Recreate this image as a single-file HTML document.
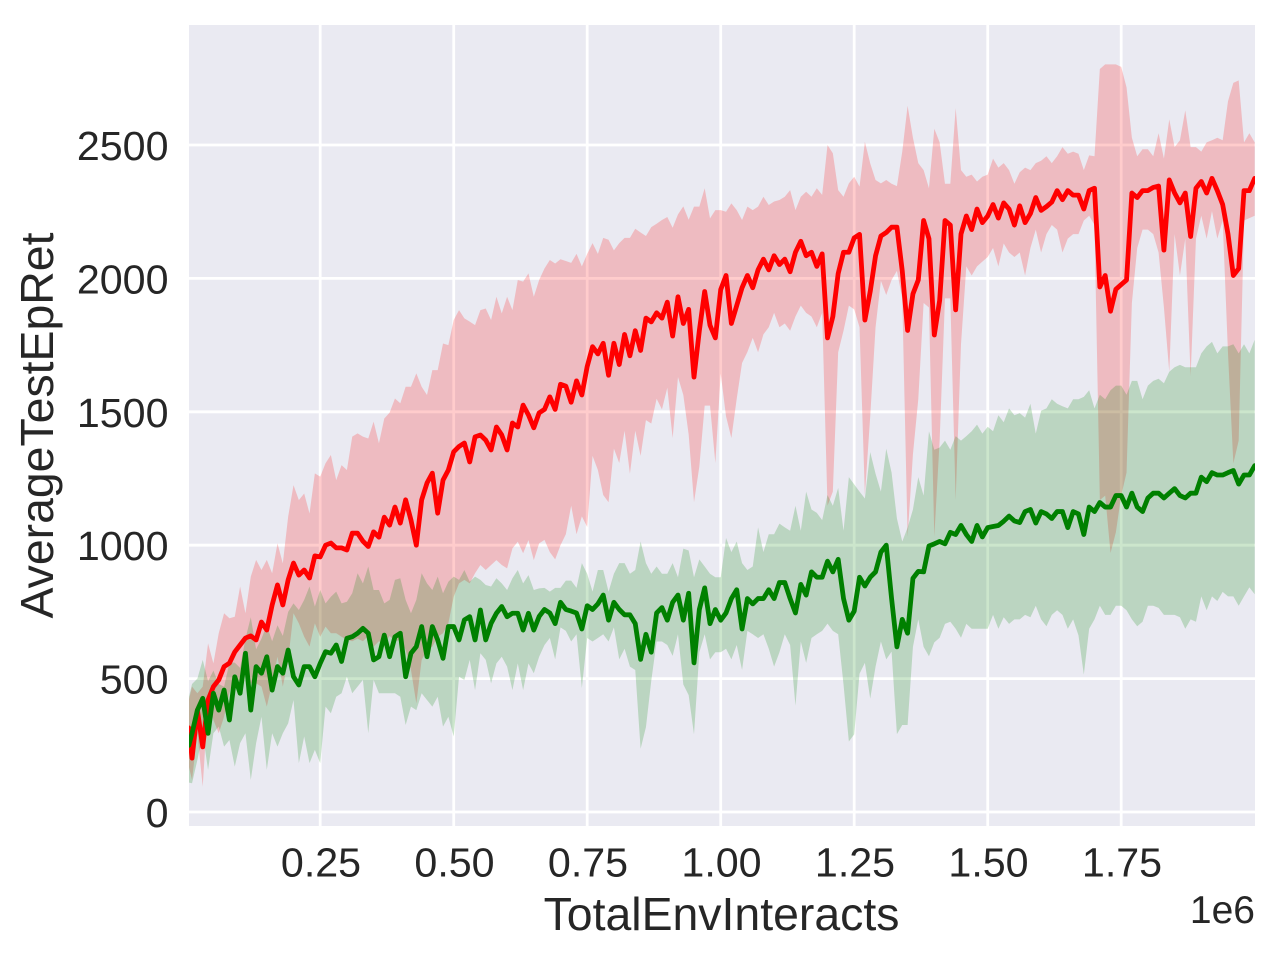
<!DOCTYPE html>
<html lang="en">
<head>
<meta charset="utf-8">
<title>AverageTestEpRet vs TotalEnvInteracts</title>
<style>
html,body{margin:0;padding:0;background:#fff;width:1280px;height:960px;overflow:hidden}
svg{display:block}
text{font-family:"Liberation Sans",Arial,sans-serif;fill:#262626}
</style>
</head>
<body>
<svg id="chart" xmlns="http://www.w3.org/2000/svg" width="1280" height="960" viewBox="0 0 1280 960">
  <defs><clipPath id="plot-clip"><rect x="189" y="25" width="1066" height="801"/></clipPath></defs>
  <rect x="189" y="25" width="1066" height="801" fill="#EAEAF2"/>
  <g id="grid"></g>
  <g id="marks" clip-path="url(#plot-clip)"></g>
  <g id="tick-labels"></g>
  <text x="721.5" y="930" font-size="46.4" text-anchor="middle">TotalEnvInteracts</text>
  <text transform="translate(53,425.5) rotate(-90)" font-size="46.4" text-anchor="middle">AverageTestEpRet</text>
  <text x="1255" y="923" font-size="39" text-anchor="end">1e6</text>
</svg>
<script>
// Axis tick values and labels
const xTicks = [250, 500, 750, 1000, 1250, 1500, 1750];
const xTickLabels = ["0.25", "0.50", "0.75", "1.00", "1.25", "1.50", "1.75"];
const yTicks = [0, 500, 1000, 1500, 2000, 2500];
const yTickLabels = ["0", "500", "1000", "1500", "2000", "2500"];

// Environment interactions, in thousands
const steps = [
4,10,20,30,40,50,60,70,80,90,
100,110,120,130,140,150,160,170,180,190,
200,210,220,230,240,250,260,270,280,290,
300,310,320,330,340,350,360,370,380,390,
400,410,420,430,440,450,460,470,480,490,
500,510,520,530,540,550,560,570,580,590,
600,610,620,630,640,650,660,670,680,690,
700,710,720,730,740,750,760,770,780,790,
800,810,820,830,840,850,860,870,880,890,
900,910,920,930,940,950,960,970,980,990,
1000,1010,1020,1030,1040,1050,1060,1070,1080,1090,
1100,1110,1120,1130,1140,1150,1160,1170,1180,1190,
1200,1210,1220,1230,1240,1250,1260,1270,1280,1290,
1300,1310,1320,1330,1340,1350,1360,1370,1380,1390,
1400,1410,1420,1430,1440,1450,1460,1470,1480,1490,
1500,1510,1520,1530,1540,1550,1560,1570,1580,1590,
1600,1610,1620,1630,1640,1650,1660,1670,1680,1690,
1700,1710,1720,1730,1740,1750,1760,1770,1780,1790,
1800,1810,1820,1830,1840,1850,1860,1870,1880,1890,
1900,1910,1920,1930,1940,1950,1960,1970,1980,1990,
2000];

const redMean = [
315,202,382,244,420,470,495,545,558,600,
626,652,660,645,712,682,776,851,776,870,
933,888,907,877,960,956,1000,1008,990,990,
982,1045,1045,1015,995,1050,1030,1105,1075,1143,
1083,1170,1094,1000,1170,1233,1270,1120,1244,1282,
1350,1370,1383,1312,1406,1413,1394,1357,1443,1413,
1357,1458,1443,1525,1488,1440,1496,1509,1556,1509,
1603,1596,1536,1616,1563,1670,1744,1717,1757,1637,
1757,1677,1790,1710,1804,1730,1851,1837,1871,1851,
1911,1784,1931,1831,1884,1630,1804,1951,1824,1777,
1958,2011,1831,1898,1965,2011,1965,2032,2072,2032,
2085,2052,2072,2025,2098,2139,2085,2098,2045,2092,
1777,1857,2018,2098,2098,2152,2165,1844,1951,2085,
2159,2172,2192,2192,2028,1805,1942,1994,2217,2149,
1788,1917,2217,2200,1882,2166,2234,2183,2260,2209,
2234,2277,2226,2283,2260,2200,2272,2209,2243,2303,
2255,2269,2286,2329,2295,2329,2312,2312,2260,2329,
2338,1968,2011,1877,1959,1977,1994,2320,2303,2329,
2329,2341,2346,2106,2369,2320,2283,2320,2157,2338,
2363,2320,2375,2329,2277,2166,2011,2037,2329,2329,
2375];

const redUpper = [
420,470,445,470,632,557,670,745,726,732,
845,745,882,945,907,945,895,1007,932,1107,
1225,1169,1194,1119,1269,1257,1307,1338,1244,1300,
1282,1407,1419,1407,1400,1463,1382,1475,1497,1550,
1532,1594,1594,1644,1594,1563,1656,1656,1756,1750,
1844,1881,1850,1838,1825,1881,1887,1844,1931,1869,
1931,1881,1994,1988,2019,1931,1994,2037,2069,2056,
2072,2065,2058,2092,2045,2092,2132,2092,2152,2145,
2105,2132,2152,2152,2186,2172,2159,2192,2205,2219,
2230,2190,2240,2270,2220,2269,2269,2338,2225,2256,
2256,2250,2281,2256,2219,2269,2256,2269,2306,2275,
2288,2294,2306,2331,2256,2306,2325,2306,2338,2313,
2500,2469,2331,2306,2356,2381,2344,2512,2431,2369,
2356,2369,2355,2346,2475,2647,2527,2432,2406,2338,
2561,2510,2355,2355,2638,2406,2381,2389,2363,2381,
2389,2449,2415,2432,2406,2355,2398,2415,2406,2432,
2441,2458,2432,2458,2492,2467,2475,2467,2406,2461,
2458,2785,2802,2802,2802,2793,2716,2527,2458,2484,
2484,2458,2544,2449,2596,2492,2518,2630,2492,2492,
2475,2510,2518,2527,2518,2664,2733,2742,2510,2544,
2510];

const redLower = [
170,120,295,95,420,345,295,357,445,520,
482,545,482,482,470,395,482,582,470,570,
745,707,657,620,707,657,695,670,670,657,
645,640,650,640,660,620,640,630,660,640,
645,607,532,407,570,607,620,657,670,707,
807,857,870,857,895,926,907,926,944,926,
913,988,1013,970,1019,944,1007,1020,974,947,
1000,1041,1148,1041,1108,1068,1335,1282,1188,1161,
1362,1308,1429,1268,1429,1335,1469,1456,1549,1509,
1590,1402,1630,1563,1415,1161,1295,1523,1523,1308,
1643,1483,1402,1549,1683,1724,1777,1723,1790,1817,
1871,1817,1831,1804,1857,1898,1871,1857,1817,1871,
1148,1201,1723,1804,1898,1884,1817,1188,1483,1817,
1991,1938,1994,2028,1925,1031,1341,1547,1908,1891,
1031,1392,1925,1925,1169,1753,2045,2011,2045,2063,
2080,2114,2045,2131,2097,2080,2097,2011,2114,2183,
2097,2166,2200,2183,2097,2149,2166,2166,2217,2235,
2200,1169,1186,971,1048,1186,1272,1908,2114,2183,
2183,2166,2097,1891,1650,2166,2011,2149,1633,2149,
2235,2149,2252,2149,2217,1719,1306,1392,2217,2226,
2235];

const greenMean = [
250,295,382,426,295,445,382,457,345,507,
445,595,382,545,520,582,457,545,520,607,
507,476,545,545,507,557,601,595,626,564,
651,657,670,688,670,570,582,663,582,657,
670,507,595,620,695,582,695,645,576,695,
695,645,720,732,645,757,645,707,745,770,
732,745,745,682,745,682,733,759,746,706,
786,759,753,746,686,773,759,780,813,719,
786,759,739,739,706,572,666,599,746,766,
719,786,813,719,820,559,759,840,706,759,
719,746,800,833,686,800,780,800,800,833,
800,860,860,800,746,853,813,900,880,880,
940,900,947,800,719,753,880,847,880,900,
974,1000,800,619,722,670,876,902,900,997,
1005,1014,1005,1048,1040,1074,1040,1014,1074,1031,
1066,1070,1074,1090,1109,1091,1085,1126,1134,1083,
1126,1117,1100,1126,1126,1066,1126,1117,1040,1143,
1126,1160,1143,1143,1186,1186,1143,1195,1143,1126,
1177,1195,1195,1177,1195,1212,1186,1177,1195,1195,
1255,1238,1272,1263,1263,1272,1280,1229,1263,1263,
1298];

const greenUpper = [
430,480,500,570,490,530,480,470,560,560,
540,650,730,610,650,700,640,700,660,750,
782,757,795,845,770,832,782,807,826,782,
788,820,895,857,920,832,832,782,795,870,
876,795,745,795,895,857,832,882,820,863,
882,870,907,863,882,870,851,845,876,857,
832,876,907,857,888,832,838,840,826,840,
840,867,867,840,933,893,826,907,907,826,
893,933,933,893,907,1014,933,893,920,893,
893,933,880,987,980,880,947,920,893,880,
880,1027,974,1014,933,907,920,1067,974,1041,
1041,1081,1067,1054,1148,1054,1201,1134,1121,1094,
1188,1148,1215,1054,1255,1228,1201,1175,1349,1268,
1201,1362,1272,1100,1014,1066,1134,1255,1186,1427,
1358,1366,1392,1358,1409,1392,1409,1427,1452,1418,
1444,1427,1487,1461,1513,1487,1495,1478,1530,1418,
1504,1513,1547,1530,1521,1513,1547,1547,1556,1581,
1513,1564,1547,1581,1598,1598,1564,1616,1616,1547,
1598,1616,1624,1607,1650,1667,1676,1667,1667,1667,
1719,1745,1762,1719,1745,1745,1753,1719,1753,1719,
1770];

const greenLower = [
110,108,195,295,158,295,320,245,270,170,
258,295,120,258,357,158,295,245,295,332,
420,183,283,183,233,183,395,370,432,445,
507,445,470,495,295,495,445,445,445,445,
432,326,395,382,445,420,395,432,320,357,
283,507,495,570,457,595,570,482,557,582,
545,457,557,457,557,520,582,626,652,572,
692,679,639,666,465,652,639,652,666,639,
692,572,612,545,532,237,318,492,639,639,
626,585,666,478,438,291,599,666,572,599,
599,612,572,626,532,679,666,652,666,612,
545,599,666,626,398,639,559,652,666,679,
706,679,666,478,264,291,518,559,425,545,
639,572,601,292,326,326,619,722,619,584,
636,653,705,713,687,653,705,687,687,687,
687,739,687,730,705,722,722,739,730,773,
722,696,739,756,739,687,722,662,515,687,
722,773,739,739,773,773,756,722,696,713,
773,773,765,739,739,739,730,687,722,713,
808,756,808,791,825,808,808,773,808,842,
816];

// Axis functions: steps in thousands to px, returns to px
function xScale(k) { return 186.7 + 0.534 * k; }
function yScale(v) { return 812 - 0.2668 * v; }

const svgNS = "http://www.w3.org/2000/svg";
const gridGroup = document.getElementById("grid");
const marksGroup = document.getElementById("marks");
const labelGroup = document.getElementById("tick-labels");

function linePoints(values) {
  return values.map(function (v, i) {
    return xScale(steps[i]).toFixed(2) + "," + yScale(v).toFixed(2);
  });
}

xTicks.forEach(function (t, i) {
  const x = xScale(t);
  const line = document.createElementNS(svgNS, "line");
  line.setAttribute("x1", x);
  line.setAttribute("x2", x);
  line.setAttribute("y1", 25);
  line.setAttribute("y2", 826);
  line.setAttribute("stroke", "#fff");
  line.setAttribute("stroke-width", 2.78);
  
  
  gridGroup.appendChild(line);

  const label = document.createElementNS(svgNS, "text");
  label.setAttribute("x", x + 0.8);
  label.setAttribute("y", 876.5);
  label.setAttribute("font-size", 41.2);
  label.setAttribute("text-anchor", "middle");
  label.textContent = xTickLabels[i];
  
  
  labelGroup.appendChild(label);
});

yTicks.forEach(function (t, i) {
  const y = yScale(t);
  const line = document.createElementNS(svgNS, "line");
  line.setAttribute("x1", 189);
  line.setAttribute("x2", 1255);
  line.setAttribute("y1", y);
  line.setAttribute("y2", y);
  line.setAttribute("stroke", "#fff");
  line.setAttribute("stroke-width", 2.78);
  
  
  gridGroup.appendChild(line);

  const label = document.createElementNS(svgNS, "text");
  label.setAttribute("x", 168.5);
  label.setAttribute("y", y + 15);
  label.setAttribute("font-size", 41.2);
  label.setAttribute("text-anchor", "end");
  label.textContent = yTickLabels[i];
  
  
  labelGroup.appendChild(label);
});

function drawBand(upper, lower, color) {
  const top = linePoints(upper);
  const bottom = linePoints(lower).reverse();
  const band = document.createElementNS(svgNS, "polygon");
  band.setAttribute("points", top.concat(bottom).join(" "));
  band.setAttribute("fill", color);
  band.setAttribute("fill-opacity", 0.2);
  band.setAttribute("stroke", "none");
  return band;
}

function drawLine(values, color) {
  const path = document.createElementNS(svgNS, "polyline");
  path.setAttribute("points", linePoints(values).join(" "));
  path.setAttribute("fill", "none");
  path.setAttribute("stroke", color);
  path.setAttribute("stroke-width", 4.8);
  path.setAttribute("stroke-linejoin", "round");
  path.setAttribute("stroke-linecap", "round");
  return path;
}

const redBand = drawBand(redUpper, redLower, "#ff0000");


marksGroup.appendChild(redBand);

const greenBand = drawBand(greenUpper, greenLower, "#008000");


marksGroup.appendChild(greenBand);

const redLine = drawLine(redMean, "#ff0000");


marksGroup.appendChild(redLine);

const greenLine = drawLine(greenMean, "#008000");


marksGroup.appendChild(greenLine);
</script>
</body>
</html>
